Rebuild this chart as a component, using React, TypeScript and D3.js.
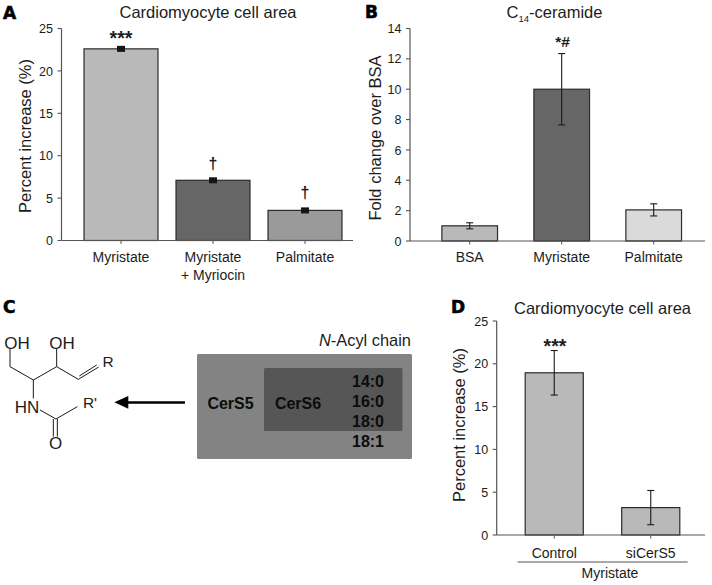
import React from "react";
import * as d3 from "d3";

const panelACategories = ["Myristate", "Myristate|+ Myriocin", "Palmitate"];
const panelAValues = [22.6, 7.1, 3.55];
const panelAErrors = [0.2, 0.2, 0.25];
const panelAMarks = ["***", "†", "†"];
const panelATicks = [0, 5, 10, 15, 20, 25];

const panelBCategories = ["BSA", "Myristate", "Palmitate"];
const panelBValues = [1, 10, 2.05];
const panelBErrors = [0.2, 2.35, 0.4];
const panelBTicks = [0, 2, 4, 6, 8, 10, 12, 14];

const panelDCategories = ["Control", "siCerS5"];
const panelDValues = [18.95, 3.2];
const panelDErrors = [2.6, 2];
const panelDTicks = [0, 5, 10, 15, 20, 25];

const acylChains = ["14:0", "16:0", "18:0", "18:1"];

const FONT = "'Liberation Sans', Arial, sans-serif";
const INK = "#1c1c1c";

type PanelProps = {
  cats: string[]; vals: number[]; errs: number[]; ticks: number[]; fills: string[];
  axisX: number; axisEnd: number; bandL: number; bandR: number; padding: number;
  y0: number; yTop: number; yMax: number; ylabel: string; ylabelX: number; ylabelY: number;
  squareErr?: boolean; tickFont?: number; catY: number;
};

function BarPanel(p: PanelProps) {
  const x = d3.scaleBand().domain(p.cats).range([p.bandL, p.bandR]).paddingInner(p.padding).paddingOuter(p.padding / 2);
  const y = d3.scaleLinear().domain([0, p.yMax]).range([p.y0, p.yTop]);
  return (
    <g fontFamily={FONT} fill={INK}>
      {p.cats.map((c, i) => {
        const bx = x(c)!;
        const cx = bx + x.bandwidth() / 2;
        return (
          <g key={c}>
            <rect x={bx} y={y(p.vals[i])} width={x.bandwidth()} height={p.y0 - y(p.vals[i])}
              fill={p.fills[i]} stroke="#2b2b2b" strokeWidth={1.2} />
            {p.squareErr ? (
              <rect x={cx - 4} y={y(p.vals[i]) - 3} width={8} height={6} fill="#151515" />
            ) : (
              <g stroke="#1a1a1a" strokeWidth={1.1}>
                <line x1={cx} x2={cx} y1={y(p.vals[i] + p.errs[i])} y2={y(p.vals[i] - p.errs[i])} />
                <line x1={cx - 3.5} x2={cx + 3.5} y1={y(p.vals[i] + p.errs[i])} y2={y(p.vals[i] + p.errs[i])} />
                <line x1={cx - 3.5} x2={cx + 3.5} y1={y(p.vals[i] - p.errs[i])} y2={y(p.vals[i] - p.errs[i])} />
              </g>
            )}
            <line x1={cx} x2={cx} y1={p.y0} y2={p.y0 + 3.5} stroke="#555" strokeWidth={1} />
            {c.split("|").map((t, k) => (
              <text key={t} x={cx} y={p.catY + k * 17.5} textAnchor="middle" fontSize={14}>{t}</text>
            ))}
          </g>
        );
      })}
      <line x1={p.axisX} x2={p.axisEnd} y1={p.y0} y2={p.y0} stroke="#555" strokeWidth={1.2} />
      <line x1={p.axisX} x2={p.axisX} y1={p.yTop} y2={p.y0} stroke="#555" strokeWidth={1.2} />
      {p.ticks.map((t) => (
        <g key={t}>
          <line x1={p.axisX - 4} x2={p.axisX} y1={y(t)} y2={y(t)} stroke="#555" strokeWidth={1.1} />
          <text x={p.axisX - 8.5} y={y(t) + 4.6} textAnchor="end" fontSize={12.5}>{t}</text>
        </g>
      ))}
      <text transform={`translate(${p.ylabelX},${p.ylabelY}) rotate(-90)`} textAnchor="middle" fontSize={16.5}>
        {p.ylabel}
      </text>
    </g>
  );
}

function Line(a: { d: string }) {
  return <path d={a.d} fill="none" stroke="#1a1a1a" strokeWidth={1} />;
}

const T = (zx: number, zy: number) => `${zx / 3},${295 + zy / 3}`;

export default function App() {
  const boldLetter = { fontFamily: "'DejaVu Sans', sans-serif", fontWeight: 900, fontSize: 17, fill: "#000", stroke: "#000", strokeWidth: 0.6 } as const;
  return (
    <svg width={712} height={585} style={{ position: "absolute", left: 0, top: 0, background: "#fff" }}>
      <BarPanel cats={panelACategories} vals={panelAValues} errs={panelAErrors} ticks={panelATicks}
        fills={["#b9b9b9", "#666666", "#9a9a9a"]} axisX={61.5} axisEnd={353} bandL={75} bandR={351} padding={0.196}
        y0={240.5} yTop={28.5} yMax={25} ylabel="Percent increase (%)" ylabelX={31} ylabelY={136} squareErr catY={262} />
      <BarPanel cats={panelBCategories} vals={panelBValues} errs={panelBErrors} ticks={panelBTicks}
        fills={["#b9b9b9", "#666666", "#dadada"]} axisX={410} axisEnd={705} bandL={423.7} bandR={699.7} padding={0.395}
        y0={241} yTop={28.5} yMax={14} ylabel="Fold change over BSA" ylabelX={381} ylabelY={138} catY={262} />
      <BarPanel cats={panelDCategories} vals={panelDValues} errs={panelDErrors} ticks={panelDTicks}
        fills={["#b9b9b9", "#b9b9b9"]} axisX={496.7} axisEnd={705} bandL={506} bandR={699} padding={0.398}
        y0={535} yTop={321} yMax={25} ylabel="Percent increase (%)" ylabelX={465} ylabelY={425} catY={558} />

      <g fontFamily={FONT} fill={INK}>
        <text x={208} y={18} textAnchor="middle" fontSize={16.5}>Cardiomyocyte cell area</text>
        <text x={554.5} y={18} textAnchor="middle" fontSize={16.5}>
          C<tspan fontSize={9.5} dy={4}>14</tspan><tspan dy={-4}>-ceramide</tspan>
        </text>
        <text x={602.5} y={313.5} textAnchor="middle" fontSize={16.5}>Cardiomyocyte cell area</text>

        <text x={121} y={45} textAnchor="middle" fontSize={19.5} fontWeight="bold">{panelAMarks[0]}</text>
        <text x={213} y={169} textAnchor="middle" fontSize={16} fontWeight="bold">{panelAMarks[1]}</text>
        <text x={305} y={198} textAnchor="middle" fontSize={16} fontWeight="bold">{panelAMarks[2]}</text>
        <text x={562.5} y={47} textAnchor="middle" fontSize={15.5} fontWeight="bold">*#</text>
        <text x={555} y={352.5} textAnchor="middle" fontSize={19.5} fontWeight="bold">***</text>

        <line x1={517.7} x2={687.7} y1={562} y2={562} stroke="#555" strokeWidth={1} />
        <text x={610} y={578} textAnchor="middle" fontSize={14}>Myristate</text>
      </g>

      <text x={3} y={19} {...boldLetter}>A</text>
      <text x={365} y={18} {...boldLetter}>B</text>
      <text x={3} y={313} {...boldLetter}>C</text>
      <text x={451} y={313} {...boldLetter}>D</text>

      <g fontFamily={FONT}>
        <rect x={197} y={354} width={215} height={105} rx={1.5} fill="#838383" />
        <rect x={264} y={368} width={138.5} height={63} rx={1.5} fill="#565656" />
        <text x={411} y={346} textAnchor="end" fontSize={16.4} fill={INK}>
          <tspan fontStyle="italic">N</tspan>-Acyl chain
        </text>
        <g fontWeight="bold" fontSize={16} fill="#0c0c0c" textAnchor="middle">
          <text x={230.5} y={408.5}>CerS5</text>
          <text x={298} y={408.5}>CerS6</text>
          {acylChains.map((c, i) => (
            <text key={c} x={368} y={387 + i * 20.1}>{c}</text>
          ))}
        </g>
      </g>

      <g fontFamily={FONT} fontSize={17} fill={INK}>
        <Line d={`M${T(30, 160)} L${T(30, 215)} L${T(100, 255)} L${T(170, 215)} L${T(170, 160)}`} />
        <Line d={`M${T(170, 215)} L${T(235, 253)} L${T(296, 216)}`} />
        <Line d={`M${T(238, 243)} L${T(290, 210)}`} />
        <Line d={`M${T(100, 255)} L${T(100, 310)}`} />
        <Line d={`M${T(120, 345)} L${T(168, 372)} L${T(232, 335)}`} />
        <Line d={`M${T(160, 372)} L${T(160, 425)}`} />
        <Line d={`M${T(172, 372)} L${T(172, 425)}`} />
        <text x={17} y={348.5} textAnchor="middle">OH</text>
        <text x={62} y={348.5} textAnchor="middle">OH</text>
        <text x={108} y={367} textAnchor="middle" fontSize={15.5}>R</text>
        <text x={27} y={413} textAnchor="middle">HN</text>
        <text x={90} y={408} textAnchor="middle" fontSize={15.5}>R'</text>
        <text x={55.5} y={449} textAnchor="middle">O</text>
        <line x1={185} x2={128} y1={402.5} y2={402.5} stroke="#000" strokeWidth={2.4} />
        <path d={`M${T(343, 322)} L${T(385, 303)} L${T(385, 341)} Z`} fill="#000" />
      </g>
    </svg>
  );
}
